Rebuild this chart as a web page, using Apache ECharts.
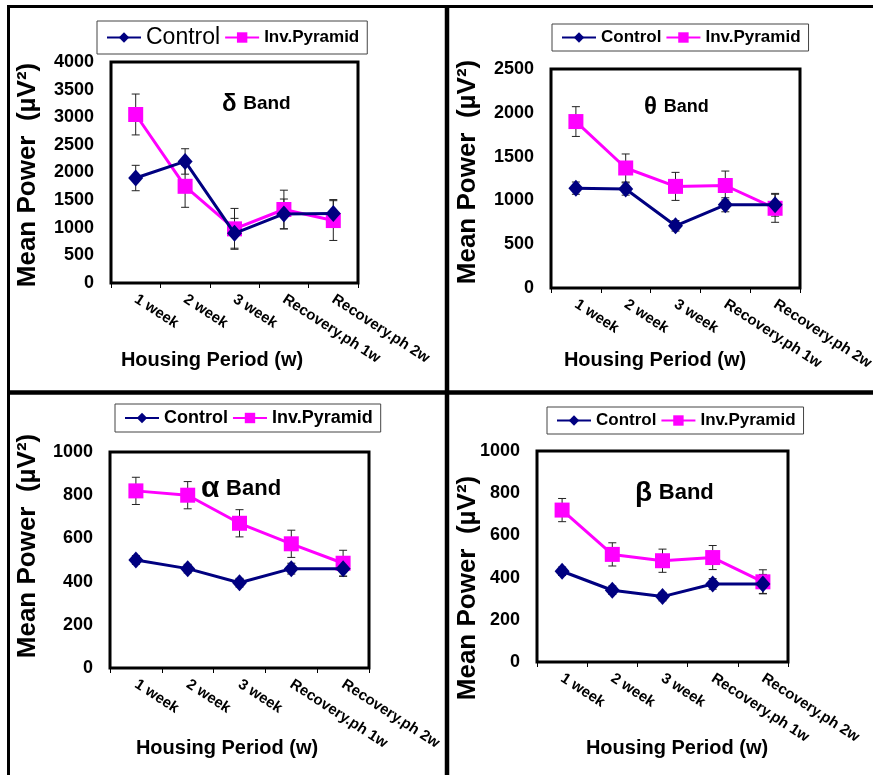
<!DOCTYPE html>
<html>
<head>
<meta charset="utf-8">
<script src="https://cdn.jsdelivr.net/npm/echarts@6/dist/echarts.min.js"></script>
<style>
  html, body { margin: 0; padding: 0; background: #fff; }
  #chart { width: 873px; height: 775px; }
</style>
</head>
<body>
<div id="chart"></div>
<script>
// categories and values
const categories = ['1 week', '2 week', '3 week', 'Recovery.ph 1w', 'Recovery.ph 2w'];

const deltaControl = [1900, 2200, 900, 1250, 1260];
const deltaControlErr = [230, 230, 270, 270, 250];
const deltaPyramid = [3050, 1750, 980, 1330, 1130];
const deltaPyramidErr = [370, 380, 370, 350, 360];

const thetaControl = [1140, 1130, 710, 950, 950];
const thetaControlErr = [70, 70, 60, 80, 130];
const thetaPyramid = [1900, 1370, 1160, 1170, 910];
const thetaPyramidErr = [170, 160, 160, 165, 160];

const alphaControl = [500, 460, 395, 460, 460];
const alphaControlErr = [20, 20, 20, 25, 35];
const alphaPyramid = [820, 800, 670, 575, 485];
const alphaPyramidErr = [63, 63, 63, 63, 60];

const betaControl = [430, 340, 310, 370, 370];
const betaControlErr = [20, 20, 20, 25, 45];
const betaPyramid = [720, 510, 480, 495, 380];
const betaPyramidErr = [55, 55, 55, 57, 57];

const yMax = [4000, 2500, 1000, 1000];
const yStep = [500, 500, 200, 200];

const FONT = "'Liberation Sans', Arial, sans-serif";
const NAVY = '#000080';
const MAGENTA = '#ff00ff';

const chart = echarts.init(document.getElementById('chart'));

// plot boxes for the four panels
const grids = [
  { left: 111, top: 62, width: 247, height: 221 },
  { left: 551, top: 69, width: 249, height: 219 },
  { left: 110, top: 452, width: 259, height: 216 },
  { left: 537, top: 451, width: 251, height: 211 }
].map(g => Object.assign(g, { show: true, borderColor: '#000', borderWidth: 3, outerBoundsMode: 'none', containLabel: false }));

const xAxes = grids.map((g, i) => ({
  type: 'category',
  gridIndex: i,
  data: categories,
  boundaryGap: true,
  axisLine: { lineStyle: { color: '#000', width: 2 } },
  axisTick: { show: true, length: 5, lineStyle: { color: '#000', width: 1 } },
  axisLabel: {
    interval: 0, rotate: -33, margin: 15,
    color: '#000', fontSize: 15, fontWeight: 'bold', fontFamily: FONT
  },
  splitLine: { show: false }
}));

const yAxes = grids.map((g, i) => ({
  type: 'value',
  gridIndex: i,
  min: 0, max: yMax[i], interval: yStep[i],
  axisLine: { show: true, lineStyle: { color: '#000', width: 2 } },
  axisTick: { show: false },
  axisLabel: {
    color: '#000', fontSize: 18, fontWeight: 'bold', fontFamily: FONT, margin: 17,
    formatter: v => String(v)
  },
  splitLine: { show: false }
}));

const panels = [
  [deltaControl, deltaControlErr, deltaPyramid, deltaPyramidErr],
  [thetaControl, thetaControlErr, thetaPyramid, thetaPyramidErr],
  [alphaControl, alphaControlErr, alphaPyramid, alphaPyramidErr],
  [betaControl, betaControlErr, betaPyramid, betaPyramidErr]
];

function errorBars(vals, errs, i) {
  return {
    type: 'custom',
    xAxisIndex: i, yAxisIndex: i,
    z: 1,
    silent: true,
    data: vals.map((v, k) => [k, v, errs[k]]),
    renderItem: function (params, api) {
      const x = api.value(0), v = api.value(1), e = api.value(2);
      const top = api.coord([x, v + e]);
      const bot = api.coord([x, v - e]);
      const style = { stroke: '#222', lineWidth: 1 };
      return {
        type: 'group',
        children: [
          { type: 'line', shape: { x1: top[0], y1: top[1], x2: bot[0], y2: bot[1] }, style },
          { type: 'line', shape: { x1: top[0] - 4, y1: top[1], x2: top[0] + 4, y2: top[1] }, style },
          { type: 'line', shape: { x1: bot[0] - 4, y1: bot[1], x2: bot[0] + 4, y2: bot[1] }, style }
        ]
      };
    }
  };
}

const series = [];
panels.forEach((p, i) => {
  series.push(errorBars(p[0], p[1], i));
  series.push(errorBars(p[2], p[3], i));
  series.push({
    name: 'Control', type: 'line', xAxisIndex: i, yAxisIndex: i, z: 3,
    data: p[0], symbol: 'diamond', symbolSize: [15, 17],
    lineStyle: { color: NAVY, width: 3 }, itemStyle: { color: NAVY }
  });
  series.push({
    name: 'Inv.Pyramid', type: 'line', xAxisIndex: i, yAxisIndex: i, z: 2,
    data: p[2], symbol: 'rect', symbolSize: 15,
    lineStyle: { color: MAGENTA, width: 3 }, itemStyle: { color: MAGENTA }
  });
});

// legend boxes
const legendPos = [
  { left: 97, top: 21, c: { fontSize: 23, fontWeight: 'normal' }, p: { fontSize: 17 } },
  { left: 552, top: 24, c: { fontSize: 17 }, p: { fontSize: 17 } },
  { left: 115, top: 404, c: { fontSize: 18 }, p: { fontSize: 18 } },
  { left: 547, top: 407, c: { fontSize: 17 }, p: { fontSize: 17 } }
];
const legends = legendPos.map(l => ({
  left: l.left, top: l.top,
  data: ['Control', 'Inv.Pyramid'],
  orient: 'horizontal',
  borderColor: '#444', borderWidth: 1,
  padding: [5, 8, 5, 9],
  itemGap: 4, itemWidth: 34, itemHeight: 13,
  selectedMode: false,
  formatter: name => name === 'Control' ? '{c|Control}' : '{p|Inv.Pyramid}',
  textStyle: {
    color: '#000',
    rich: {
      c: Object.assign({ fontWeight: 'bold', fontFamily: FONT, color: '#000' }, l.c),
      p: Object.assign({ fontWeight: 'bold', fontFamily: FONT, color: '#000' }, l.p)
    }
  }
}));

function text(x, y, str, size, rot) {
  return {
    type: 'text', x: x, y: y, rotation: rot || 0, z: 10,
    style: {
      text: str, fill: '#000', fontSize: size, fontWeight: 'bold', fontFamily: FONT,
      align: 'center', verticalAlign: 'middle'
    }
  };
}
function band(x, y, sym, symSize, size) {
  return {
    type: 'text', x: x, y: y, z: 10,
    style: {
      text: '{g|' + sym + '}  {b|Band}', fill: '#000', align: 'left', verticalAlign: 'middle',
      rich: {
        g: { fontSize: symSize, fontWeight: 'bold', fontFamily: FONT, fill: '#000' },
        b: { fontSize: size, fontWeight: 'bold', fontFamily: FONT, fill: '#000' }
      }
    }
  };
}
function line(x1, y1, x2, y2, w) {
  return { type: 'line', z: 20, shape: { x1, y1, x2, y2 }, style: { stroke: '#000', lineWidth: w } };
}

const graphics = [
  line(7, 6.5, 873, 6.5, 3),
  line(8.5, 5, 8.5, 775, 3),
  line(447, 5, 447, 775, 4.5),
  line(8, 392.5, 873, 392.5, 4.5),
  text(28, 175, 'Mean Power  (µV²)', 26, Math.PI / 2),
  text(468, 172, 'Mean Power  (µV²)', 26, Math.PI / 2),
  text(28, 546, 'Mean Power  (µV²)', 26, Math.PI / 2),
  text(468, 588, 'Mean Power  (µV²)', 26, Math.PI / 2),
  text(212, 360, 'Housing Period (w)', 20),
  text(655, 360, 'Housing Period (w)', 20),
  text(227, 748, 'Housing Period (w)', 20),
  text(677, 748, 'Housing Period (w)', 20),
  band(222, 104, 'δ', 24, 19),
  band(644, 107, 'θ', 24, 18),
  band(201, 489, 'α', 30, 22),
  band(635, 493, 'β', 28, 22)
];

chart.setOption({
  backgroundColor: '#fff',
  animation: false,
  grid: grids,
  xAxis: xAxes,
  yAxis: yAxes,
  legend: legends,
  series: series,
  graphic: graphics
});
</script>
</body>
</html>
